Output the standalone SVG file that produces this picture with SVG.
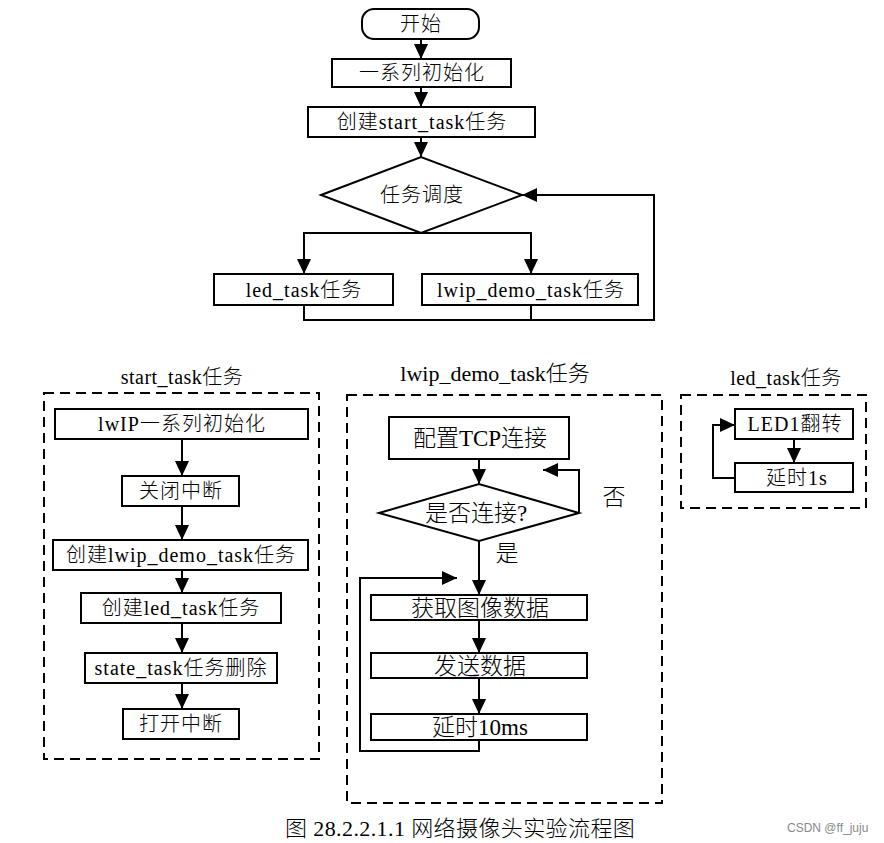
<svg xmlns="http://www.w3.org/2000/svg" width="884" height="843" viewBox="0 0 884 843">
<style>
.b{fill:#fff;stroke:#000;stroke-width:2}
.d{fill:none;stroke:#000;stroke-width:2;stroke-dasharray:10 6}
.c{fill:none;stroke:#000;stroke-width:2}
text{font-family:"Liberation Serif","Noto Sans CJK SC",serif;font-weight:300;fill:#000;text-anchor:middle}
.t20{font-size:20px;letter-spacing:1px}
.t23{font-size:23px}
.cap{font-size:22px;letter-spacing:0.4px;text-anchor:start}
.wm{font-family:"Liberation Sans",sans-serif;font-size:12px;fill:#8a8a8a;text-anchor:start;font-weight:400}
</style>
<defs>
<marker id="ah" viewBox="0 0 15 14" refX="15" refY="7" markerWidth="15" markerHeight="14" orient="auto" markerUnits="userSpaceOnUse"><path d="M0,0 L15,7 L0,14 z" fill="#000"/></marker>
</defs>
<rect fill="#fff" x="0" y="0" width="884" height="843"/>

<g id="connectors">
<path class="c" d="M421,39 V59" marker-end="url(#ah)"/>
<path class="c" d="M421,87 V107" marker-end="url(#ah)"/>
<path class="c" d="M421,137 V157" marker-end="url(#ah)"/>
<path class="c" d="M421,233 H304 V274" marker-end="url(#ah)"/>
<path class="c" d="M421,233 H531 V274" marker-end="url(#ah)"/>
<path class="c" d="M304,305 V320 H654 V195 H522" marker-end="url(#ah)"/>
<path class="c" d="M531,305 V320"/>

<path class="c" d="M182,439 V476" marker-end="url(#ah)"/>
<path class="c" d="M182,506 V540" marker-end="url(#ah)"/>
<path class="c" d="M182,570 V593" marker-end="url(#ah)"/>
<path class="c" d="M182,623 V653" marker-end="url(#ah)"/>
<path class="c" d="M182,683 V709" marker-end="url(#ah)"/>

<path class="c" d="M479,459 V484" marker-end="url(#ah)"/>
<path class="c" d="M579,513 V470 H543" marker-end="url(#ah)"/>
<path class="c" d="M479,541 V595" marker-end="url(#ah)"/>
<path class="c" d="M479,620 V653" marker-end="url(#ah)"/>
<path class="c" d="M479,678 V714" marker-end="url(#ah)"/>
<path class="c" d="M479,740 V751 H360 V578 H457" marker-end="url(#ah)"/>

<path class="c" d="M794,439 V463" marker-end="url(#ah)"/>
<path class="c" d="M735,478 H713 V425 H735" marker-end="url(#ah)"/>
</g>

<g id="start"><rect class="b" x="362" y="9" width="117" height="30" rx="12"/><text class="t20" x="421" y="31">开始</text></g>
<g id="init"><rect class="b" x="332" y="59" width="179" height="28"/><text class="t20" x="422" y="80">一系列初始化</text></g>
<g id="create_start"><rect class="b" x="308" y="107" width="227" height="30"/><text class="t20" x="422" y="129">创建start_task任务</text></g>
<g id="sched"><polygon class="b" points="321,195 421,157 522,195 421,233"/><text class="t20" x="422" y="202">任务调度</text></g>
<g id="led_top"><rect class="b" x="214" y="274" width="179" height="31"/><text class="t20" x="304" y="297">led_task任务</text></g>
<g id="lwip_top"><rect class="b" x="422" y="274" width="216" height="31"/><text class="t20" x="531" y="297">lwip_demo_task任务</text></g>

<g id="start_task_group">
<rect class="d" x="44" y="393" width="275" height="366"/>
<text class="t20" x="182" y="384" style="letter-spacing:0.5px">start_task任务</text>
</g>
<g id="s1"><rect class="b" x="55" y="409" width="253" height="30"/><text class="t20" x="182" y="431">lwIP一系列初始化</text></g>
<g id="s2"><rect class="b" x="122" y="476" width="117" height="30"/><text class="t20" x="181" y="498">关闭中断</text></g>
<g id="s3"><rect class="b" x="53" y="540" width="255" height="30"/><text class="t20" x="181" y="562">创建lwip_demo_task任务</text></g>
<g id="s4"><rect class="b" x="81" y="593" width="200" height="30"/><text class="t20" x="181" y="615">创建led_task任务</text></g>
<g id="s5"><rect class="b" x="85" y="653" width="192" height="30"/><text class="t20" x="181" y="675">state_task任务删除</text></g>
<g id="s6"><rect class="b" x="123" y="709" width="116" height="30"/><text class="t20" x="181" y="731">打开中断</text></g>

<g id="lwip_group">
<rect class="d" x="347" y="395" width="315" height="408"/>
<text x="495" y="381" style="font-size:22px">lwip_demo_task任务</text>
</g>
<g id="l1"><rect class="b" x="389" y="417" width="180" height="42"/><text class="t23" x="480" y="446">配置TCP连接</text></g>
<g id="l2"><polygon class="b" points="379,513 479,484 579,513 479,541"/><text class="t23" x="476" y="521">是否连接?</text></g>
<g id="lbl_no"><text class="t23" x="614" y="505">否</text></g>
<g id="lbl_yes"><text class="t23" x="507" y="561">是</text></g>
<g id="l3"><rect class="b" x="371" y="595" width="216" height="25"/><text class="t23" x="480" y="616">获取图像数据</text></g>
<g id="l4"><rect class="b" x="371" y="653" width="216" height="25"/><text class="t23" x="480" y="674">发送数据</text></g>
<g id="l5"><rect class="b" x="371" y="714" width="216" height="26"/><text class="t23" x="480" y="735">延时10ms</text></g>

<g id="led_group">
<rect class="d" x="681" y="395" width="185" height="113"/>
<text class="t20" x="786" y="385" style="letter-spacing:0.5px">led_task任务</text>
</g>
<g id="e1"><rect class="b" x="735" y="409" width="118" height="30"/><text class="t20" x="795" y="431">LED1翻转</text></g>
<g id="e2"><rect class="b" x="735" y="463" width="118" height="29"/><text class="t20" x="797" y="485">延时1s</text></g>

<g id="caption"><text class="cap" x="285" y="836">图 28.2.2.1.1 网络摄像头实验流程图</text></g>
<g id="watermark"><text class="wm" x="787" y="832">CSDN @ff_juju</text></g>
</svg>
